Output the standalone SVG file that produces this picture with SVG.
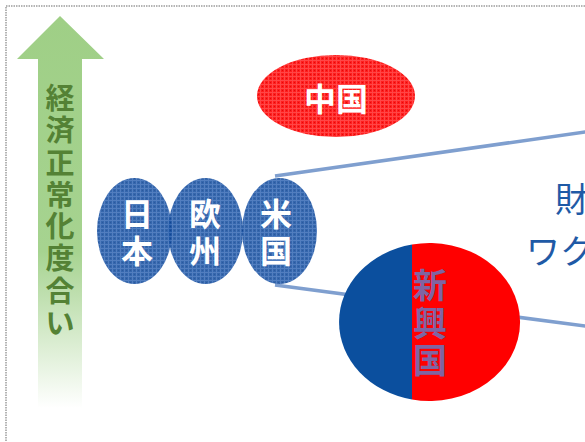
<svg xmlns="http://www.w3.org/2000/svg" width="585" height="442" viewBox="0 0 585 442">
<style>
.cjk{font-family:"Noto Sans CJK JP","Noto Sans CJK SC",sans-serif;}
.wb{fill:#ffffff;font-weight:bold;font-size:32px;text-anchor:middle;}
.conn{stroke:#7f9fcf;stroke-width:3.5;fill:none;}
</style>
<defs>
<linearGradient id="arrowGrad" x1="0" y1="16" x2="0" y2="408" gradientUnits="userSpaceOnUse">
<stop offset="0" stop-color="#9fcf86"/>
<stop offset="0.6" stop-color="#a6d390"/>
<stop offset="1" stop-color="#ffffff"/>
</linearGradient>
<pattern id="redTex" width="4" height="4" patternUnits="userSpaceOnUse">
<rect width="4" height="4" fill="#ff1e1e"/>
<rect width="4" height="1" fill="#ff4646"/>
<rect width="1" height="4" fill="#ff4646"/>
<rect x="2" y="2" width="1" height="1" fill="#e00a0a"/>
</pattern>
<pattern id="blueTex" width="4" height="4" patternUnits="userSpaceOnUse">
<rect width="4" height="4" fill="#1a52a2"/>
<rect width="4" height="1" fill="#3a6cb6"/>
<rect width="1" height="4" fill="#3a6cb6"/>
<rect x="2" y="2" width="1" height="1" fill="#0f4290"/>
</pattern>
</defs>
<rect x="0" y="0" width="585" height="442" fill="#ffffff"/>
<rect x="6" y="6" width="620" height="480" fill="none" stroke="#b4b4b4" stroke-width="2" stroke-dasharray="1.5 1"/>

<g id="connectors">
<line class="conn" x1="275" y1="176" x2="592" y2="131"/>
<line class="conn" x1="275" y1="285" x2="592" y2="327"/>
</g>

<g id="axis-arrow">
<polygon points="60,16 104,59 82,59 82,408 38,408 38,59 17,59" fill="url(#arrowGrad)"/>
<text class="cjk" x="60" font-size="29" font-weight="bold" fill="#548235" text-anchor="middle"><tspan x="60" y="109">経</tspan><tspan x="60" y="141">済</tspan><tspan x="60" y="174">正</tspan><tspan x="60" y="206">常</tspan><tspan x="60" y="237">化</tspan><tspan x="60" y="269">度</tspan><tspan x="60" y="302">合</tspan><tspan x="60" y="334">い</tspan></text>
</g>

<g id="china">
<ellipse cx="336" cy="96" rx="79" ry="41" fill="url(#redTex)"/>
<text class="cjk" x="336" y="111" font-size="32" font-weight="bold" fill="#ffffff" text-anchor="middle">中国</text>
</g>

<g id="japan">
<ellipse cx="134.5" cy="231" rx="37.5" ry="53" fill="url(#blueTex)" opacity="0.88"/>
<text class="cjk wb" x="137"><tspan x="137" y="226">日</tspan><tspan x="137" y="263">本</tspan></text>
</g>
<g id="europe">
<ellipse cx="205.5" cy="231" rx="37.5" ry="53" fill="url(#blueTex)" opacity="0.88"/>
<text class="cjk wb" x="205"><tspan x="205" y="226">欧</tspan><tspan x="205" y="263">州</tspan></text>
</g>
<g id="usa">
<ellipse cx="279.5" cy="231" rx="37.5" ry="53" fill="url(#blueTex)" opacity="0.88"/>
<text class="cjk wb" x="276"><tspan x="276" y="226">米</tspan><tspan x="276" y="263">国</tspan></text>
</g>

<g id="emerging">
<path d="M412,244.5 A90.5,79 0 0 0 412,399.5 Z" fill="#0b4f9e"/>
<path d="M412,244.5 A90.5,79 0 1 1 412,399.5 Z" fill="#ff0000"/>
<text class="cjk" x="430" font-size="34" font-weight="bold" fill="#8064a2" text-anchor="middle"><tspan x="430" y="298">新</tspan><tspan x="430" y="336">興</tspan><tspan x="430" y="373">国</tspan></text>
</g>

<g id="policy-text">
<text class="cjk" x="555" y="212" font-size="34" fill="#1f5aa6">財</text>
<text class="cjk" x="526" y="264" font-size="34" fill="#1f5aa6">ワク</text>
</g>
</svg>
